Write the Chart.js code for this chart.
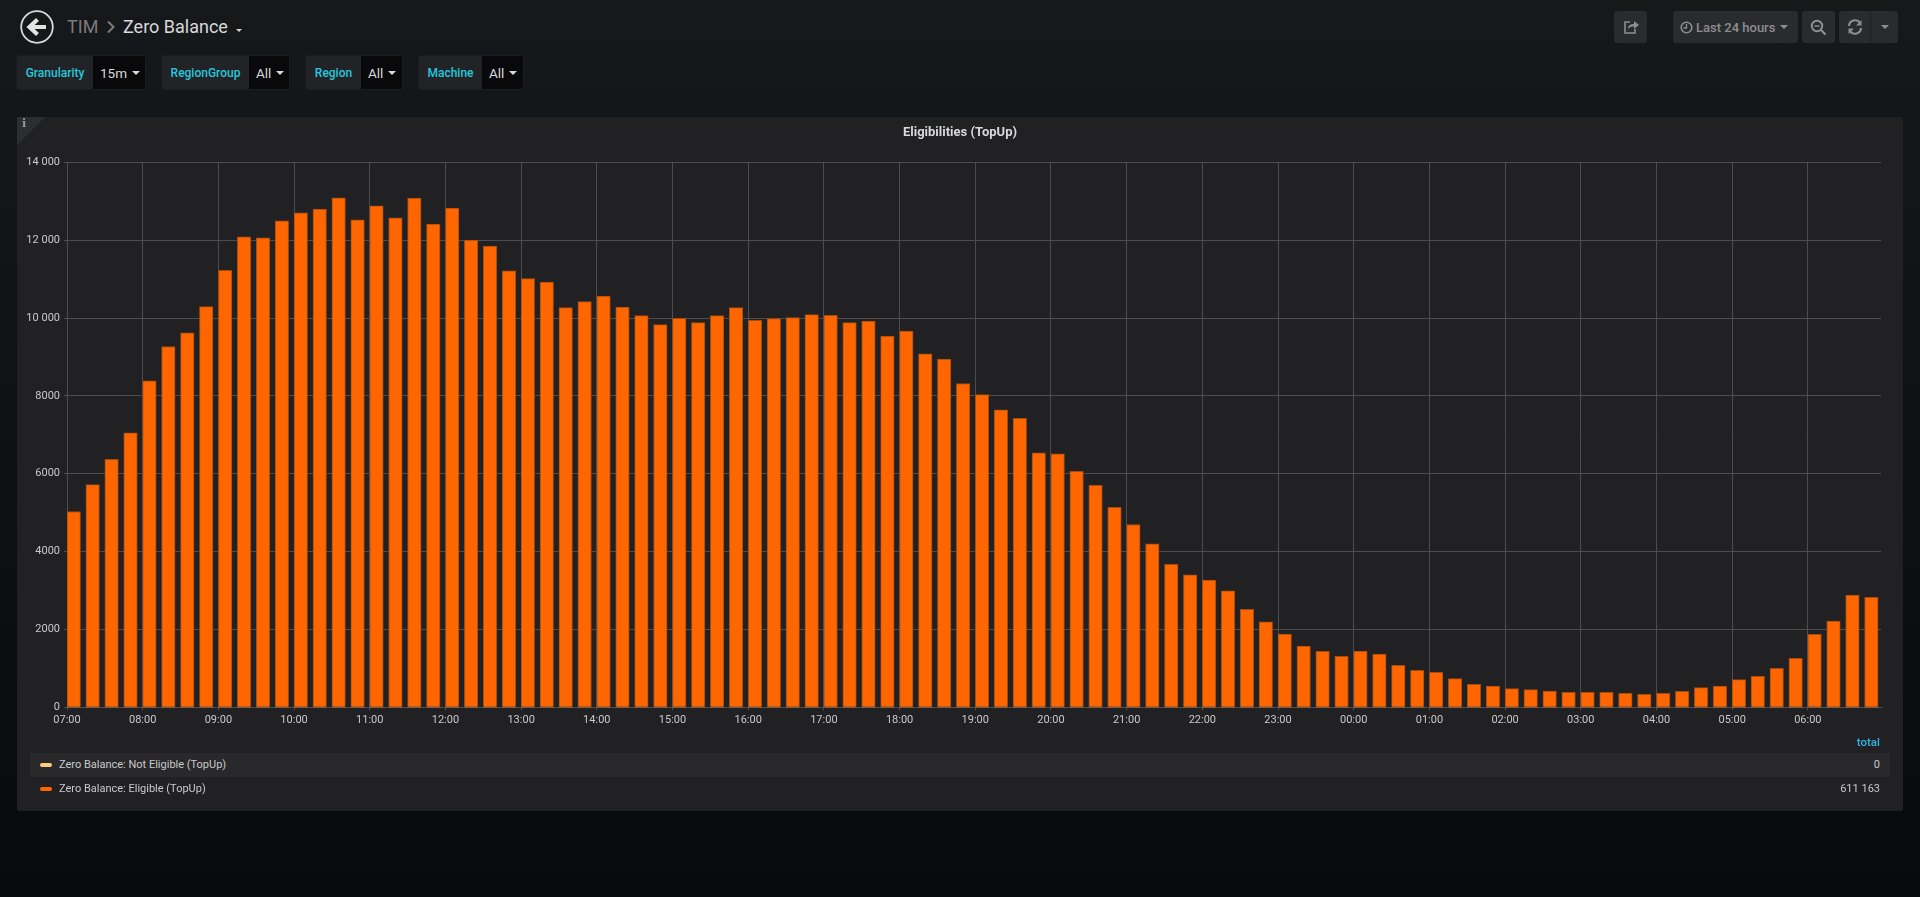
<!DOCTYPE html>
<html>
<head>
<meta charset="utf-8">
<title>Zero Balance</title>
<script src="https://cdn.jsdelivr.net/npm/chart.js@4/dist/chart.umd.min.js"></script>
<style>
  html, body { margin: 0; padding: 0; }
  body {
    position: relative; width: 1920px; height: 897px; overflow: hidden;
    background: linear-gradient(#17181a 0, #15161a 100px, #0b0c0e 700px, #090a0c 897px);
    font-family: Roboto, sans-serif; color: #d8d9da;
  }
  .abs { position: absolute; }
  .crumb { font-size: 18px; line-height: 22px; top: 16px; white-space: nowrap; }
  .pill { position: absolute; top: 55px; height: 35px; display: flex; box-sizing: border-box;
    border: 1px solid #1c1d20; border-radius: 3px; overflow: hidden; font-size: 12px; }
  .pill b { display: flex; align-items: center; justify-content: center; background: #212327;
    color: #26c8dc; font-weight: 500; }
  .pill span { display: flex; align-items: center; padding-left: 7px; background: #09090b;
    color: #d8d9da; font-size: 13.5px; flex: 1; }
  .caret { display: inline-block; width: 0; height: 0; border-left: 4px solid transparent;
    border-right: 4px solid transparent; border-top: 4px solid #d8d9da; margin-left: 5px; }
  .btn { position: absolute; top: 11px; height: 32px; background: #2a2b2e; border-radius: 3px;
    color: #8e8e8e; display: flex; align-items: center; justify-content: center; }
  #panel { left: 17px; top: 117px; width: 1886px; height: 694px; background: #212124; border-radius: 2px; }
  #corner { left: 0; top: 0; width: 28px; height: 28px; background: #2d2e31;
    clip-path: polygon(0 0, 100% 0, 0 100%); }
  #info { left: 5px; top: 0; font: bold 11px "DejaVu Serif", serif; color: #9a9a9a; }
  canvas { position: absolute; left: 0; top: 0; }
  .row { position: absolute; left: 13px; width: 1860px; height: 24px; font-size: 11px; line-height: 24px; color: #c8c9ca; }
  .row .sw { position: absolute; left: 10px; top: 10px; width: 12px; height: 4px; border-radius: 2px; }
  .row .nm { position: absolute; left: 29px; }
  .row .vl { position: absolute; right: 10px; }
  #total { right: 23px; top: 618px; font-size: 11.5px; font-weight: 500; color: #33b5e5; }
</style>
</head>
<body>
  <!-- top bar -->
  <svg class="abs" style="left:20px;top:10px" width="34" height="34" viewBox="0 0 34 34">
    <circle cx="17" cy="17" r="15.8" fill="none" stroke="#d8d9da" stroke-width="1.8"/>
    <path d="M17.5 9.5 L9.5 17 L17.5 24.5 M10.5 17 H26" fill="none" stroke="#e3e3e3" stroke-width="4.2"/>
  </svg>
  <div class="abs crumb" style="left:67px;color:#7b7b7b">TIM</div>
  <svg class="abs" style="left:106px;top:20px" width="10" height="14" viewBox="0 0 10 14">
    <path d="M2 1.5 L7.5 7 L2 12.5" fill="none" stroke="#7b7b7b" stroke-width="2"/>
  </svg>
  <div class="abs crumb" style="left:123px;color:#d8d9da">Zero Balance</div>
  <div class="abs" style="left:236px;top:29px;width:0;height:0;border-left:3.5px solid transparent;border-right:3.5px solid transparent;border-top:3.5px solid #d8d9da"></div>

  <div class="pill" style="left:16px;width:130px"><b style="width:76px">Granularity</b><span>15m<i class="caret"></i></span></div>
  <div class="pill" style="left:161px;width:129px"><b style="width:87px">RegionGroup</b><span>All<i class="caret"></i></span></div>
  <div class="pill" style="left:305px;width:98px"><b style="width:55px">Region</b><span>All<i class="caret"></i></span></div>
  <div class="pill" style="left:418px;width:106px"><b style="width:63px">Machine</b><span>All<i class="caret"></i></span></div>

  <div class="btn" style="left:1614px;width:33px">
    <svg width="18" height="18" viewBox="0 0 18 18"><path d="M8 4 H3 V15 H13 V11" fill="none" stroke="#8e8e8e" stroke-width="1.6"/><path d="M6 11 C6 7 9 6 12 6 V3 L17 7 L12 11 V8.5 C10 8.5 7.5 9 6 11 Z" fill="#8e8e8e"/></svg>
  </div>
  <div class="btn" style="left:1673px;width:125px;font-size:13px;font-weight:500;justify-content:flex-start">
    <svg style="margin-left:7px;margin-right:3px" width="13" height="13" viewBox="0 0 13 13"><circle cx="6.5" cy="6.5" r="5.3" fill="none" stroke="#8e8e8e" stroke-width="1.6"/><path d="M6.5 3 V7 H3.5" fill="none" stroke="#8e8e8e" stroke-width="1.3"/></svg>
    Last 24 hours<i class="caret" style="border-top-color:#8e8e8e;margin-left:5px"></i>
  </div>
  <div class="btn" style="left:1802px;width:33px">
    <svg width="17" height="17" viewBox="0 0 17 17"><circle cx="7" cy="7" r="5.2" fill="none" stroke="#8e8e8e" stroke-width="2"/><path d="M4.5 7 H9.5" stroke="#8e8e8e" stroke-width="1.5"/><path d="M11 11 L15.5 15.5" stroke="#8e8e8e" stroke-width="2.2"/></svg>
  </div>
  <div class="btn" style="left:1839px;width:32px;border-radius:3px 0 0 3px;border-right:1px solid #212124;box-sizing:border-box">
    <svg width="16" height="16" viewBox="0 0 16 16"><path d="M2 7 A6 6 0 0 1 13 4 M14 9 A6 6 0 0 1 3 12" fill="none" stroke="#8e8e8e" stroke-width="2.2"/><path d="M14.5 1 V6.5 H9 Z M1.5 15 V9.5 H7 Z" fill="#8e8e8e"/></svg>
  </div>
  <div class="btn" style="left:1871px;width:27px;border-radius:0 3px 3px 0"><i class="caret" style="margin:0;border-top-color:#8e8e8e"></i></div>

  <div id="panel" class="abs">
    <canvas id="chart" width="1886" height="694"></canvas>
    <div id="corner" class="abs"></div>
    <div id="info" class="abs">i</div>
    <div id="total" class="abs">total</div>
    <div class="row" style="top:636px;background:#29292c">
      <span class="sw" style="background:#ffcb7d"></span><span class="nm">Zero Balance: Not Eligible (TopUp)</span><span class="vl">0</span>
    </div>
    <div class="row" style="top:660px">
      <span class="sw" style="background:#ff6600"></span><span class="nm">Zero Balance: Eligible (TopUp)</span><span class="vl">611 163</span>
    </div>
  </div>

<script>
  const hourLabels = ['07:00', '08:00', '09:00', '10:00', '11:00', '12:00', '13:00', '14:00',
    '15:00', '16:00', '17:00', '18:00', '19:00', '20:00', '21:00', '22:00',
    '23:00', '00:00', '01:00', '02:00', '03:00', '04:00', '05:00', '06:00'];
  const yTickLabels = ['0', '2000', '4000', '6000', '8000', '10 000', '12 000', '14 000'];

  // one value per 15 minutes, starting at 07:00
  const eligible = [
    5030, 5720, 6370, 7049, 8386, 9268, 9620, 10291,
    11225, 12086, 12060, 12497, 12703, 12797, 13088, 12523,
    12883, 12574, 13080, 12411, 12823, 12000, 11846, 11212,
    11011, 10925, 10266, 10420, 10566, 10283, 10060, 9829,
    9991, 9880, 10060, 10265, 9940, 9983, 10009, 10086,
    10068, 9880, 9923, 9537, 9666, 9083, 8946, 8317,
    8034, 7640, 7426, 6540, 6514, 6060, 5705, 5140,
    4695, 4200, 3670, 3400, 3268, 2994, 2515, 2198,
    1882, 1574, 1437, 1309, 1446, 1369, 1078, 950,
    898, 736, 590, 547, 479, 453, 419, 385,
    385, 385, 359, 334, 359, 411, 505, 547,
    710, 796, 1001, 1257, 1873, 2216, 2883, 2823,
  ];
  const notEligible = [
    0, 0, 0, 0, 0, 0, 0, 0, 0, 0, 0, 0, 0, 0, 0, 0,
    0, 0, 0, 0, 0, 0, 0, 0, 0, 0, 0, 0, 0, 0, 0, 0,
    0, 0, 0, 0, 0, 0, 0, 0, 0, 0, 0, 0, 0, 0, 0, 0,
    0, 0, 0, 0, 0, 0, 0, 0, 0, 0, 0, 0, 0, 0, 0, 0,
    0, 0, 0, 0, 0, 0, 0, 0, 0, 0, 0, 0, 0, 0, 0, 0,
    0, 0, 0, 0, 0, 0, 0, 0, 0, 0, 0, 0, 0, 0, 0, 0,
  ];

  const GRID = '#4d4d4f';
  const TICK_FONT = { family: 'Roboto', size: 11 };
  const BAR_WIDTH = 13.5;
  // the bars start at their timestamp instead of being centred on it
  const BAR_SHIFT = 5.35; // minutes
  const toPoints = (list) => list.map((y, i) => ({ x: i * 15 + BAR_SHIFT, y }));

  new Chart(document.getElementById('chart'), {
    type: 'bar',
    data: {
      datasets: [
        { label: 'Zero Balance: Not Eligible (TopUp)', data: toPoints(notEligible), backgroundColor: '#ffcb7d', borderWidth: 0, barThickness: BAR_WIDTH },
        { label: 'Zero Balance: Eligible (TopUp)', data: toPoints(eligible), backgroundColor: '#ff6600', borderColor: '#a34c10', borderWidth: 1, barThickness: BAR_WIDTH },
      ],
    },
    options: {
      animation: false,
      responsive: false,
      devicePixelRatio: 1,
      layout: { padding: { left: 0, right: 0, top: 0, bottom: 74 } },
      plugins: {
        legend: { display: false },
        tooltip: { enabled: false },
        title: {
          display: true,
          text: 'Eligibilities (TopUp)',
          color: '#d8d9da',
          font: { family: 'Roboto', size: 13, weight: 'bold', lineHeight: 1.1 },
          padding: { top: 9, bottom: 22 },
        },
      },
      scales: {
        x: {
          type: 'linear',
          stacked: true,
          offset: false,
          min: 0,
          max: 1438,
          afterFit(axis) { axis.height = 29.7; },
          afterBuildTicks(axis) { axis.ticks = hourLabels.map((_, i) => ({ value: i * 60 })); },
          grid: { offset: false, color: GRID, tickLength: 3, lineWidth: 1 },
          border: { color: GRID },
          ticks: {
            autoSkip: false,
            maxRotation: 0,
            padding: 3,
            color: '#c8c9ca',
            font: TICK_FONT,
            callback: (value, index) => hourLabels[index],
          },
        },
        y: {
          stacked: true,
          min: 0,
          max: 14000,
          afterFit(axis) { axis.width = 50; },
          grid: { color: GRID, tickLength: 3, lineWidth: 1 },
          border: { color: GRID },
          ticks: {
            stepSize: 2000,
            padding: 4,
            color: '#c8c9ca',
            font: TICK_FONT,
            callback: (value) => yTickLabels[value / 2000],
          },
        },
        // empty axis, only holds the gap right of the plot so the title stays centred
        gap: {
          position: 'right',
          afterFit(axis) { axis.width = 22; },
          grid: { display: false },
          border: { display: false },
          ticks: { display: false },
        },
      },
    },
  });
</script>
</body>
</html>
